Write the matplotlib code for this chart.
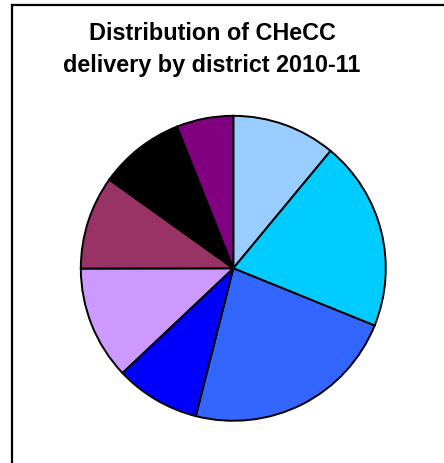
import matplotlib
matplotlib.use("Agg")
import matplotlib.pyplot as plt
from matplotlib.lines import Line2D

districts = ["District 1", "District 2", "District 3", "District 4",
             "District 5", "District 6", "District 7", "District 8"]
shares = [11.0, 20.1, 22.8, 9.0, 12.0, 9.9, 9.1, 6.0]
colors = ["#99CCFF", "#00CCFF", "#3366FF", "#0000FF",
          "#CC99FF", "#993366", "#000000", "#800080"]
title = "Distribution of CHeCC\ndelivery by district 2010-11"

W, H = 444, 464
fig = plt.figure(figsize=(W / 100, H / 100), dpi=100)
fig.patch.set_facecolor("white")

# chart frame (cropped at right and bottom)
fig.add_artist(Line2D([12 / W, 1.0], [1 - 5.5 / H, 1 - 5.5 / H], color="black", lw=1.6,
                      transform=fig.transFigure))
fig.add_artist(Line2D([12 / W, 12 / W], [1 - 5.5 / H, 0.0], color="black", lw=1.6,
                      transform=fig.transFigure))

cx, cy, r = 233.3, 269.3, 154.0
ax = fig.add_axes([(cx - r) / W, (H - cy - r) / H, 2 * r / W, 2 * r / H])
ax.pie(shares, colors=colors, startangle=90, counterclock=False, radius=1,
       wedgeprops=dict(edgecolor="black", linewidth=1.4))
ax.set_xlim(-1.01, 1.01)
ax.set_ylim(-1.01, 1.01)
ax.axis("off")

fig.text(212 / W, 1 - 49.5 / H, title, ha="center", va="center",
         fontsize=16.8, fontweight="bold", family="Liberation Sans",
         linespacing=1.45)

fig.savefig("out.png", dpi=100)
